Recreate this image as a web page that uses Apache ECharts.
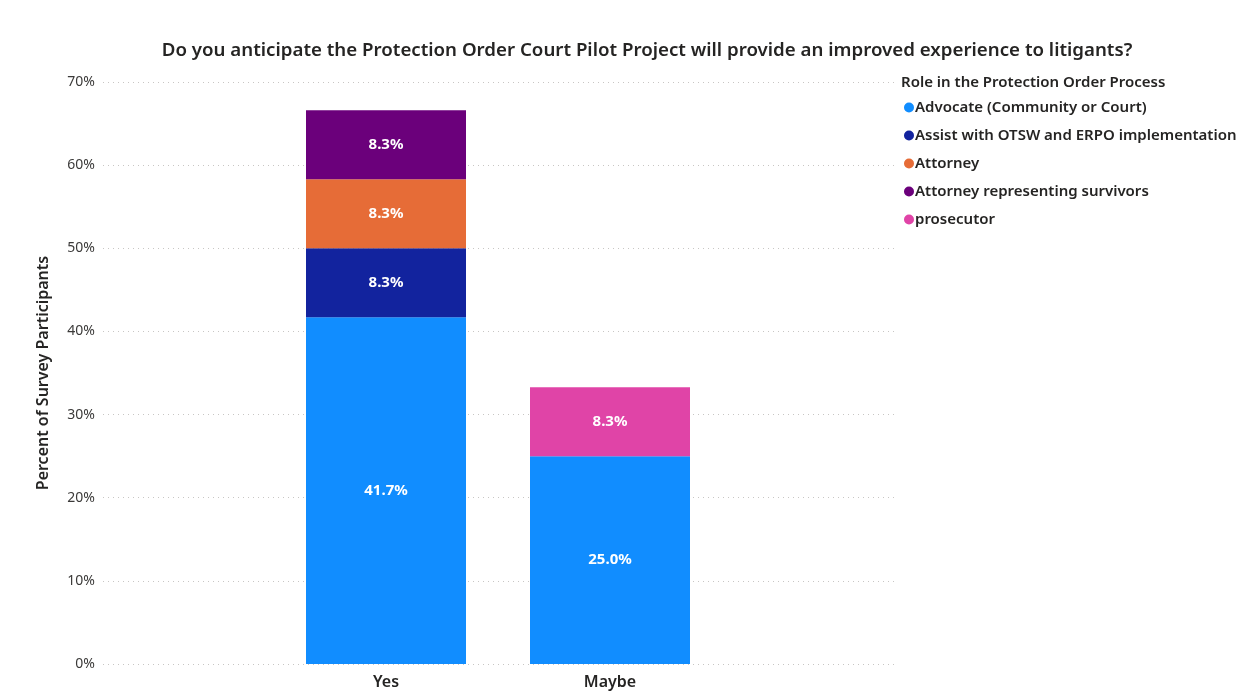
<!DOCTYPE html>
<html>
<head>
<meta charset="utf-8">
<script src="https://cdn.jsdelivr.net/npm/echarts@6/dist/echarts.min.js"></script>
<style>
  html, body { margin: 0; padding: 0; background: #fff; }
  #chart { width: 1252px; height: 695px; }
</style>
</head>
<body>
<div id="chart"></div>
<script>
const categories = ["Yes", "Maybe"];
const roles = [
  "Advocate (Community or Court)",
  "Assist with OTSW and ERPO implementation",
  "Attorney",
  "Attorney representing survivors",
  "prosecutor",
];
const advocate = [41.7, 25.0];
const assistOtsw = [8.3, null];
const attorney = [8.3, null];
const attorneySurvivors = [8.3, null];
const prosecutor = [null, 8.3];
const yTicks = [0, 10, 20, 30, 40, 50, 60, 70];

const colors = ["#118DFF", "#12239E", "#E66C37", "#6B007B", "#E044A7"];
const font = "Noto Sans";
const textColor = "#252423";

const chart = echarts.init(document.getElementById("chart"));

const seriesData = [advocate, assistOtsw, attorney, attorneySurvivors, prosecutor];
const series = roles.map((name, i) => ({
  name,
  type: "bar",
  stack: "total",
  xAxisIndex: 1,
  yAxisIndex: 1,
  barWidth: 160,
  data: seriesData[i],
  itemStyle: { color: colors[i] },
  label: {
    show: true,
    position: "inside",
    color: "#fff",
    fontFamily: font,
    fontWeight: "bold",
    fontSize: 15,
    formatter: (p) => (p.value == null ? "" : p.value.toFixed(1) + "%"),
  },
}));

const option = {
  animation: false,
  textStyle: { fontFamily: font },
  title: [
    {
      text: "Do you anticipate the Protection Order Court Pilot Project will provide an improved experience to litigants?",
      left: 642,
      textAlign: "center",
      top: 36,
      textStyle: { fontSize: 18.7, fontWeight: 600, color: textColor, fontFamily: font },
    },
    {
      text: "Role in the Protection Order Process",
      left: 896,
      top: 70,
      textStyle: { fontSize: 15, fontWeight: 600, color: textColor, fontFamily: font },
    },
  ],
  legend: {
    orient: "vertical",
    left: 899,
    top: 95,
    icon: "circle",
    itemWidth: 10,
    itemHeight: 10,
    itemGap: 13,
    data: roles,
    textStyle: { fontSize: 15, fontWeight: 600, color: textColor, fontFamily: font, padding: [0, 0, 0, -4] },
  },
  grid: [
    { left: 103, right: 354, top: 82, bottom: 31 },
    { left: 274, right: 530, top: 82, bottom: 31 },
  ],
  xAxis: [
    { type: "category", gridIndex: 0, data: categories, show: false },
    {
      type: "category",
      gridIndex: 1,
      data: categories,
      axisLine: { show: false },
      axisTick: { show: false },
      axisLabel: { color: textColor, fontSize: 16, fontWeight: 600, margin: 10, fontFamily: font },
    },
  ],
  yAxis: [
    {
      type: "value",
      gridIndex: 0,
      min: yTicks[0],
      max: yTicks[yTicks.length - 1],
      interval: 10,
      name: "Percent of Survey Participants",
      nameLocation: "middle",
      nameGap: 52,
      nameTextStyle: { fontSize: 16, fontWeight: 600, color: textColor, fontFamily: font },
      axisLine: { show: false },
      axisTick: { show: false },
      axisLabel: { color: "#3b3a39", fontSize: 14, margin: 8, formatter: "{value}%", fontFamily: font },
      splitLine: { lineStyle: { color: "#C8C6C4", type: [1, 4], width: 1 } },
    },
    {
      type: "value",
      gridIndex: 1,
      min: yTicks[0],
      max: yTicks[yTicks.length - 1],
      interval: 10,
      show: false,
      splitLine: { show: false },
    },
  ],
  series,
};

chart.setOption(option);
</script>
</body>
</html>
